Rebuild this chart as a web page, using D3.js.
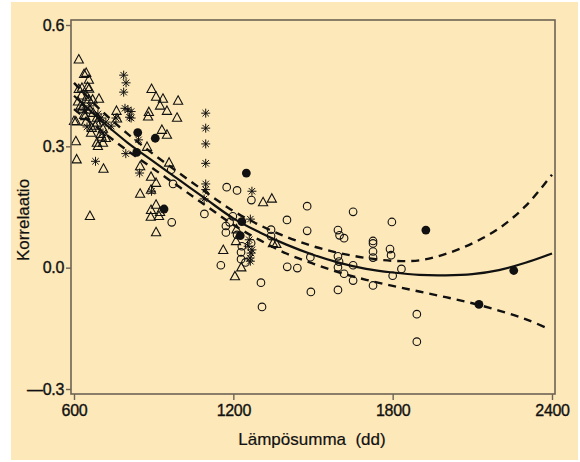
<!DOCTYPE html>
<html><head><meta charset="utf-8">
<script src="https://cdn.jsdelivr.net/npm/d3@7"></script>
<style>body{margin:0;background:#fff}svg{display:block}</style>
</head><body><svg id="c" width="580" height="462"></svg>
<script>
// ---- data ----
const xTicks = [600, 1200, 1800, 2400];
const yTicks = [-0.3, 0.0, 0.3, 0.6];
const xTitle = "Lämpösumma  (dd)";
const yTitle = "Korrelaatio";

const triangles = [
[618,0.514],[638,0.478],[646,0.481],[656,0.464],[618,0.441],[630,0.444],[651,0.446],[657,0.442],
[607,0.361],[600,0.362],[607,0.312],[610,0.267],[694,0.417],[649,0.422],[660,0.127],[711,0.244],
[686,0.308],[709,0.308],[704,0.323],[642,0.374],[667,0.345],[633,0.398],[656,0.415],[686,0.370],
[670,0.415],[638,0.377],[672,0.382],[630,0.392],[687,0.358],[709,0.343],[664,0.333],[760,0.387],
[762,0.368],[892,0.441],[909,0.422],[935,0.417],[924,0.400],[950,0.387],[992,0.412],[988,0.370],
[882,0.384],[879,0.373],[931,0.340],[950,0.328],[875,0.298],[849,0.250],[958,0.259],[890,0.224],
[909,0.209],[849,0.182],[890,0.192],[909,0.155],[890,0.142],[924,0.137],[889,0.125],[909,0.087],
[920,0.127],[1312,0.161],[1345,0.170],[1162,0.043],[1206,-0.022],[1230,0.0],[1210,0.065],
[1212,0.094],[1349,0.060],[1362,0.058],[625,0.400],[645,0.360],[660,0.390],[680,0.350],
[700,0.330],[690,0.300],[720,0.320],[628,0.425],[615,0.410]
];
const asterisks = [
[787,0.476],[796,0.457],[787,0.434],[792,0.394],[803,0.390],[815,0.386],[809,0.372],[815,0.370],
[681,0.263],[649,0.348],[702,0.370],[709,0.333],[697,0.365],[795,0.282],[847,0.234],[892,0.189],
[843,0.316],[758,0.370],[1096,0.382],[1096,0.345],[1096,0.306],[1096,0.258],[1096,0.207],
[1096,0.193],[1270,0.189],[1264,0.120],[1260,0.069],[1267,0.036],[1264,0.016],[1256,0.053],
[1270,0.044],[1263,0.024],[660,0.400],[690,0.380],[720,0.360],[640,0.390],[740,0.350],[1090,0.170]
];
const openCircles = [
[966,0.242],[973,0.207],[968,0.112],[1091,0.133],[1175,0.199],[1214,0.191],[1172,0.103],[1172,0.087],
[1153,0.006],[1214,0.081],[1229,0.038],[1229,0.021],[1246,0.013],[1232,0.053],[1268,0.167],
[1267,0.061],[1198,0.127],[1186,0.112],[1304,-0.037],[1308,-0.097],[1342,0.094],[1342,0.078],
[1402,0.118],[1403,0.002],[1441,-0.001],[1478,0.152],[1478,0.091],[1490,0.026],[1492,-0.060],
[1594,0.093],[1600,0.080],[1617,0.073],[1594,0.028],[1598,0.015],[1594,0.001],[1617,-0.015],
[1651,0.138],[1651,0.006],[1651,-0.032],[1594,-0.055],[1726,0.066],[1726,0.060],[1726,0.040],
[1726,0.025],[1726,-0.044],[1797,0.113],[1790,0.046],[1794,0.031],[1833,-0.003],[1800,-0.020],
[1891,-0.115],[1891,-0.183]
];
const filledCircles = [
[840,0.334],[906,0.320],[836,0.285],[939,0.145],[1249,0.234],[1232,0.114],[1226,0.079],
[1925,0.093],[2256,-0.007],[2125,-0.091]
];
const fitX   = [600,700,800,900,1000,1100,1200,1300,1400,1500,1600,1700,1800,1900,2000,2100,2200,2300,2400];
const fitY   = [0.425,0.365,0.310,0.262,0.215,0.168,0.122,0.087,0.057,0.032,0.012,-0.003,-0.012,-0.018,-0.019,-0.016,-0.006,0.012,0.035];
const upperY = [0.457,0.390,0.332,0.280,0.232,0.185,0.140,0.105,0.076,0.053,0.036,0.024,0.017,0.018,0.034,0.060,0.097,0.152,0.230];
const lowerX = [600,700,800,900,1000,1100,1200,1300,1400,1500,1600,1700,1800,1900,2000,2100,2200,2300,2390];
const lowerY = [0.392,0.340,0.290,0.244,0.198,0.152,0.106,0.068,0.035,0.010,-0.012,-0.030,-0.045,-0.059,-0.073,-0.088,-0.106,-0.127,-0.152];

// ---- drawing ----
const svg = d3.select("#c");
const bg = "#fde8b9", frameCol = "#6e6355", ink = "#111";
svg.append("rect").attr("x",11).attr("y",2).attr("width",567).attr("height",458).attr("fill",bg);

const x = d3.scaleLinear().domain([600,2400]).range([74,552]);
const y = d3.scaleLinear().domain([0.6,-0.3]).range([25,389]);

const g = svg.append("g");
g.selectAll("path.tri").data(triangles).join("path").attr("class","tri")
  .attr("transform",d=>`translate(${x(d[0])},${y(d[1])})`)
  .attr("d","M0,-5.2L4.6,3.2L-4.6,3.2Z").attr("fill","none").attr("stroke",ink).attr("stroke-width",1.1);
g.selectAll("circle.oc").data(openCircles).join("circle").attr("class","oc")
  .attr("cx",d=>x(d[0])).attr("cy",d=>y(d[1])).attr("r",3.8)
  .attr("fill","none").attr("stroke",ink).attr("stroke-width",1.1);
g.selectAll("path.ast").data(asterisks).join("path").attr("class","ast")
  .attr("transform",d=>`translate(${x(d[0])},${y(d[1])})`)
  .attr("d","M0,-4.5V4.5M-4.5,0H4.5M-3.2,-3.2L3.2,3.2M-3.2,3.2L3.2,-3.2")
  .attr("fill","none").attr("stroke",ink).attr("stroke-width",1);
g.selectAll("circle.fc").data(filledCircles).join("circle").attr("class","fc")
  .attr("cx",d=>x(d[0])).attr("cy",d=>y(d[1])).attr("r",4.4).attr("fill",ink);

const line = d3.line().x(d=>x(d[0])).y(d=>y(d[1])).curve(d3.curveCatmullRom);
svg.append("path").attr("d",line(fitX.map((v,i)=>[v,fitY[i]])))
  .attr("fill","none").attr("stroke",ink).attr("stroke-width",2.2);
svg.append("path").attr("d",line(fitX.map((v,i)=>[v,upperY[i]])))
  .attr("fill","none").attr("stroke",ink).attr("stroke-width",2.4).attr("stroke-dasharray","8,6");
svg.append("path").attr("d",line(lowerX.map((v,i)=>[v,lowerY[i]])))
  .attr("fill","none").attr("stroke",ink).attr("stroke-width",2.4).attr("stroke-dasharray","8,6");

svg.append("rect").attr("x",71).attr("y",20).attr("width",484).attr("height",374)
  .attr("fill","none").attr("stroke",frameCol).attr("stroke-width",1.6);

const font = "'Liberation Sans', Arial, sans-serif";
const yFmt = d => (d < 0 ? "\u2014" : "") + Math.abs(d).toFixed(1);
const xa = svg.append("g").attr("transform","translate(0,394)")
  .call(d3.axisBottom(x).tickValues(xTicks).tickSize(6).tickPadding(5).tickFormat(d3.format("d")));
const ya = svg.append("g").attr("transform","translate(71,0)")
  .call(d3.axisLeft(y).tickValues(yTicks).tickSize(5).tickPadding(2).tickFormat(yFmt));
[xa,ya].forEach(a=>{
  a.select(".domain").remove();
  a.selectAll("line").attr("stroke",frameCol).attr("stroke-width",1.4);
  a.selectAll("text").attr("fill",ink).attr("stroke",ink).attr("stroke-width",0.35)
   .style("font-family",font).style("font-size","16px").style("letter-spacing","-0.3px");
});

svg.append("text").attr("x",312).attr("y",445).attr("text-anchor","middle").style("white-space","pre")
  .style("font-family",font).style("font-size","17px").attr("fill",ink).attr("stroke",ink).attr("stroke-width",0.2).text(xTitle);
svg.append("text").attr("transform","translate(29,220) rotate(-90)").attr("text-anchor","middle")
  .style("font-family",font).style("font-size","17px").attr("fill",ink).attr("stroke",ink).attr("stroke-width",0.2).text(yTitle);
</script></body></html>
